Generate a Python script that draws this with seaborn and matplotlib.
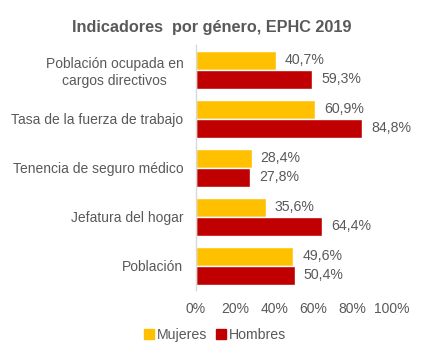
import pandas as pd
import matplotlib.pyplot as plt
import seaborn as sns

indicadores = ["Población ocupada en\ncargos directivos", "Tasa de la fuerza de trabajo",
               "Tenencia de seguro médico", "Jefatura del hogar", "Población"]
mujeres = [40.7, 60.9, 28.4, 35.6, 49.6]
hombres = [59.3, 84.8, 27.8, 64.4, 50.4]
sexos = ["Mujeres", "Hombres"]
colores = ["#FFC000", "#C00000"]
gris = "#595959"

df = pd.DataFrame({
    "indicador": indicadores * 2,
    "sexo": ["Mujeres"] * len(mujeres) + ["Hombres"] * len(hombres),
    "valor": mujeres + hombres,
})

sns.set_theme(style="white")
plt.rcParams['font.family'] = ['Liberation Sans', 'DejaVu Sans']

fig = plt.figure(figsize=(4.24, 3.55), dpi=100)
ax = fig.add_axes([0.462, 0.1817, 0.4625, 0.6903])

sns.barplot(data=df, x="valor", y="indicador", hue="sexo", hue_order=sexos,
            palette=colores, saturation=1, width=0.776, gap=0, orient="h",
            ax=ax, legend=False)

# etiquetas con coma decimal
for cont in ax.containers:
    etiquetas = [f"{b.get_width():.1f}%".replace(".", ",") for b in cont]
    ax.bar_label(cont, labels=etiquetas, padding=6.5, fontsize=10.2, color=gris)

ax.set_xlim(0, 100)
ax.set_ylim(4.5, -0.5)
ax.set_xticks([0, 20, 40, 60, 80, 100])
ax.set_xticklabels([f"{t}%" for t in range(0, 101, 20)])
ax.set_xlabel("")
ax.set_ylabel("")
ax.tick_params(axis="x", length=0, pad=8, labelsize=10, labelcolor=gris)
ax.tick_params(axis="y", length=0, pad=9, labelsize=10, labelcolor=gris)
for lbl in ax.get_yticklabels():
    lbl.set_horizontalalignment("right")
    lbl.set_multialignment("center")
for s in ["top", "right", "bottom"]:
    ax.spines[s].set_visible(False)
ax.spines["left"].set_color("#D9D9D9")
ax.spines["left"].set_linewidth(1)

fig.suptitle("Indicadores  por género, EPHC 2019", x=0.5, y=0.945,
             fontsize=11.7, fontweight="bold", color=gris)

handles = [plt.Rectangle((0, 0), 1, 1, color=c) for c in colores]
fig.legend(handles, sexos, loc="center", bbox_to_anchor=(0.507, 0.056), ncol=2,
           frameon=False, handlelength=0.7, handleheight=0.7, handletextpad=0.2,
           columnspacing=0.6, fontsize=10.2, labelcolor=gris)

fig.savefig("out.png", dpi=100)
